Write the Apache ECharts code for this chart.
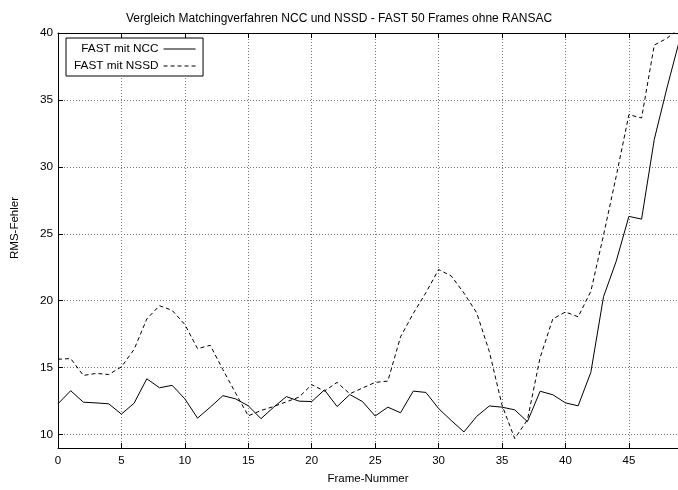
<!DOCTYPE html>
<html>
<head>
<meta charset="utf-8">
<script src="https://cdn.jsdelivr.net/npm/echarts@6/dist/echarts.min.js"></script>
<style>
  html, body { margin: 0; padding: 0; background: #fff; }
  #chart { width: 678px; height: 490px; }
</style>
</head>
<body>
<div id="chart"></div>
<script>
// Frame numbers and RMS error per matching method
const frames = [0, 1, 2, 3, 4, 5, 6, 7, 8, 9, 10, 11, 12, 13, 14, 15, 16, 17, 18, 19,
  20, 21, 22, 23, 24, 25, 26, 27, 28, 29, 30, 31, 32, 33, 34, 35, 36, 37, 38, 39,
  40, 41, 42, 43, 44, 45, 46, 47, 48, 49];

const rmsNCC = [12.3, 13.28, 12.42, 12.37, 12.3, 11.53, 12.35, 14.17, 13.5, 13.68,
  12.67, 11.23, 12.05, 12.91, 12.67, 12.15, 11.19, 12.05, 12.84, 12.5,
  12.47, 13.34, 12.1, 12.99, 12.47, 11.39, 12.05, 11.63, 13.25, 13.15,
  11.95, 11.05, 10.2, 11.36, 12.14, 12.05, 11.85, 10.97, 13.24, 12.98,
  12.37, 12.15, 14.65, 20.3, 22.95, 26.3, 26.1, 32.05, 35.9, 39.5];

const rmsNSSD = [15.63, 15.68, 14.42, 14.57, 14.49, 15.06, 16.37, 18.64, 19.63, 19.28,
  18.22, 16.42, 16.67, 14.85, 13.1, 11.4, 11.8, 12.1, 12.45, 12.8,
  13.73, 13.25, 13.9, 13.05, 13.48, 13.9, 14.0, 17.3, 19.05, 20.6,
  22.33, 21.85, 20.57, 19.1, 16.2, 12.2, 9.7, 11.1, 15.75, 18.64,
  19.16, 18.8, 20.7, 24.9, 29.3, 33.9, 33.65, 39.1, 39.6, 40.4];

const seriesNames = ['FAST mit NCC', 'FAST mit NSSD'];
const xTicks = [0, 5, 10, 15, 20, 25, 30, 35, 40, 45];
const yTicks = [10, 15, 20, 25, 30, 35, 40];

const FONT = 'Liberation Sans, Arial, sans-serif';

const pairs = (vals) => frames.map((f, i) => [f, vals[i]]);

const gridLine = { show: true, lineStyle: { color: '#7a7a7a', type: [1, 2], width: 1 } };

const chart = echarts.init(document.getElementById('chart'), null, { renderer: 'canvas' });

chart.setOption({
  backgroundColor: '#fff',
  animation: false,
  textStyle: { fontFamily: FONT, color: '#000' },
  title: {
    text: 'Vergleich Matchingverfahren NCC und NSSD - FAST 50 Frames ohne RANSAC',
    left: 'center',
    top: 8,
    textStyle: { fontFamily: FONT, fontSize: 12, fontWeight: 'normal', color: '#000' }
  },
  legend: {
    data: seriesNames,
    orient: 'vertical',
    align: 'right',
    left: 66,
    top: 38,
    itemWidth: 32,
    itemHeight: 12,
    itemGap: 5,
    padding: [5, 7, 4, 8],
    borderColor: '#000',
    borderWidth: 1,
    backgroundColor: '#fff',
    // line sample only, no marker on it
    itemStyle: { color: 'rgba(0,0,0,0)', borderWidth: 0, opacity: 0 },
    lineStyle: { width: 1 },
    textStyle: { fontFamily: FONT, fontSize: 11.8, color: '#000' }
  },
  grid: { left: 58, right: -6, top: 33, bottom: 38, containLabel: false },
  xAxis: [
    {
      type: 'value',
      position: 'bottom',
      min: 0,
      max: 48.87,
      interval: 5,
      name: 'Frame-Nummer',
      nameLocation: 'middle',
      nameGap: 25,
      nameTextStyle: { fontFamily: FONT, fontSize: 11.5, color: '#000' },
      axisLine: { show: true, lineStyle: { color: '#000', width: 1 } },
      axisTick: { show: true, inside: true, length: 5, lineStyle: { color: '#000' } },
      axisLabel: {
        fontFamily: FONT, fontSize: 11.5, color: '#000', margin: 7,
        showMaxLabel: false,
        formatter: (v) => (xTicks.includes(v) ? String(v) : '')
      },
      splitLine: gridLine
    },
    {
      type: 'value',
      position: 'top',
      min: 0,
      max: 48.87,
      interval: 5,
      axisLine: { show: true, onZero: false, lineStyle: { color: '#000', width: 1 } },
      axisTick: { show: true, inside: true, length: 5, lineStyle: { color: '#000' } },
      axisLabel: { show: false },
      splitLine: { show: false }
    }
  ],
  yAxis: {
    type: 'value',
    min: 9,
    max: 40,
    splitNumber: 6,
    axisLine: { show: true, onZero: false, lineStyle: { color: '#000', width: 1 } },
    axisTick: { show: true, inside: true, length: 5, lineStyle: { color: '#000' } },
    axisLabel: {
      fontFamily: FONT, fontSize: 11.8, color: '#000', margin: 5,
      formatter: (v) => (yTicks.includes(v) ? String(v) : '')
    },
    splitLine: gridLine
  },
  graphic: [
    {
      type: 'text',
      x: 15,
      y: 228,
      rotation: Math.PI / 2,
      style: {
        text: 'RMS-Fehler',
        font: '11.5px ' + FONT,
        fill: '#000',
        align: 'center',
        verticalAlign: 'middle'
      }
    }
  ],
  series: [
    {
      name: seriesNames[0],
      type: 'line',
      xAxisIndex: 0,
      data: pairs(rmsNCC),
      symbol: 'none',
      clip: true,
      lineStyle: { color: '#000', width: 1, type: 'solid' },
      itemStyle: { color: '#000' }
    },
    {
      name: seriesNames[1],
      type: 'line',
      xAxisIndex: 0,
      data: pairs(rmsNSSD),
      symbol: 'none',
      clip: true,
      lineStyle: { color: '#000', width: 1, type: [4, 3] },
      itemStyle: { color: '#000' }
    }
  ]
});
</script>
</body>
</html>
